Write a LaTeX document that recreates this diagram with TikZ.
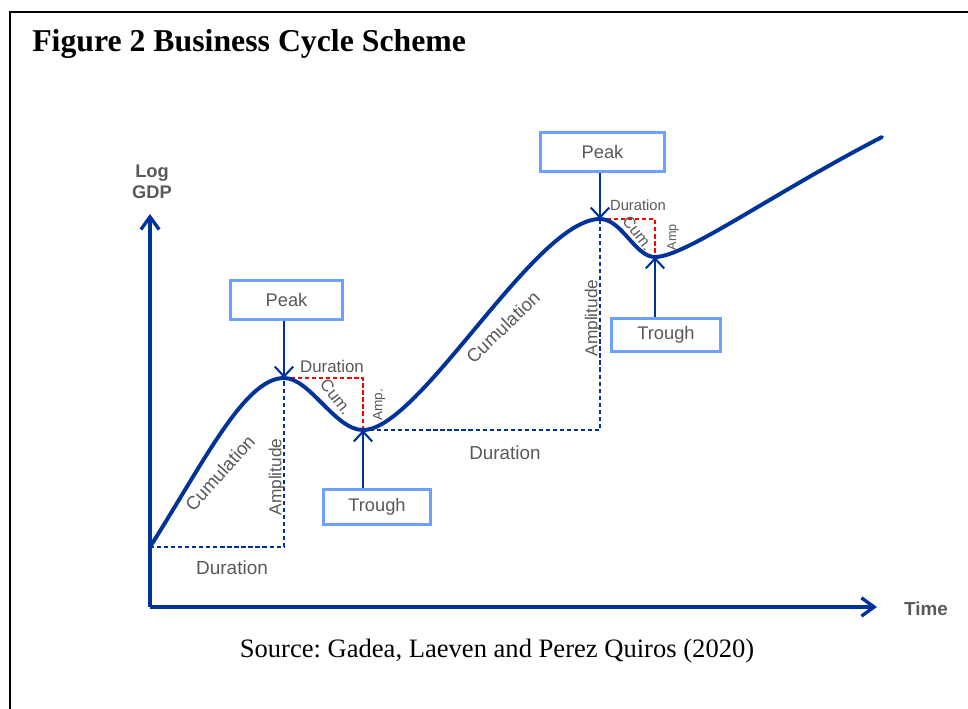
\documentclass[tikz,border=0pt]{standalone}
\usepackage{fontspec}
\setmainfont{Liberation Serif}
\setsansfont{Liberation Sans}
\usetikzlibrary{arrows.meta}
\frenchspacing

\definecolor{cycleblue}{RGB}{0,51,153}
\definecolor{boxblue}{RGB}{110,160,255}
\definecolor{labelgray}{RGB}{89,89,89}

\newcommand{\fsz}[1]{\fontsize{#1}{1.2\dimexpr #1pt\relax}\selectfont}

\tikzset{
  axisline/.style={line width=2.8pt, cycleblue, -{Straight Barb[length=9pt,width=13pt,line width=2.4pt]}},
  cycleline/.style={line width=2.8pt, cycleblue, line cap=round},
  stagebox/.style={draw=boxblue, line width=2pt, fill=white, inner sep=0pt,
    text=labelgray, font=\sffamily\fsz{13}},
  pointer/.style={line width=1.5pt, cycleblue, -{Straight Barb[length=7pt,width=13pt,line width=1.5pt]}},
  guide/.style={cycleblue, line width=0.9pt, dash pattern=on 3pt off 2pt},
  redguide/.style={red, line width=0.9pt, dash pattern=on 3pt off 2pt},
  lbl/.style={text=labelgray, font=\sffamily\fsz{12}, inner sep=0pt},
}

\begin{document}
\begin{tikzpicture}[x=0.025cm, y=-0.025cm]
  \useasboundingbox (0,0) rectangle (968,709);

  % Frame and title
  \draw[line width=1.3pt, line join=miter] (10,709) -- (10,12) -- (968,12);
  \node[anchor=base west, font=\bfseries\fsz{22.6}, inner sep=0pt] (title) at (32,52) {Figure 2 Business Cycle Scheme};

  % Turning points of the cycle
  \coordinate (start)   at (150,547);
  \coordinate (peakA)   at (284,378);
  \coordinate (troughA) at (363,430);
  \coordinate (peakB)   at (600,219);
  \coordinate (troughB) at (655,257);
  \coordinate (finish)  at (882,137);

  % Axes
  \coordinate (origin) at (150,607);
  \coordinate (ytip)   at (150,214);
  \coordinate (xtip)   at (877,607);
  \draw[axisline] (origin) -- (ytip);
  \draw[axisline] (origin) -- (xtip);
  \node[text=labelgray, font=\sffamily\bfseries\fsz{13}, align=center, inner sep=0pt] (ylabel) at (152,182) {Log\\[-1pt]GDP};
  \node[text=labelgray, font=\sffamily\bfseries\fsz{13.4}, inner sep=0pt] (xlabel) at (926,609) {Time};

  % Dashed guides (blue: full phase, red: recession)
  \draw[guide] (start) -- (start -| peakA) -- (peakA);
  \draw[guide] (troughA) -- (troughA -| peakB) -- (peakB);
  \draw[redguide] (peakA) -- (peakA -| troughA) -- (troughA);
  \draw[redguide] (peakB) -- (peakB -| troughB) -- (troughB);

  % The cycle
  \draw[cycleline] (start) .. controls (205,460) and (245,378) .. (peakA)
    .. controls (310,378) and (335,430) .. (troughA)
    .. controls (420,430) and (535,219) .. (peakB)
    .. controls (622,219) and (635,257) .. (troughB)
    .. controls (685,257) and (770,195) .. (finish);

  % Peak and trough boxes
  \node[stagebox, minimum width=2.8cm, minimum height=0.98cm] (peakboxA) at (286.5,300) {Peak};
  \node[stagebox, minimum width=2.68cm, minimum height=0.88cm] (troughboxA) at (377,507) {Trough};
  \node[stagebox, minimum width=3.1cm, minimum height=0.98cm] (peakboxB) at (602.5,152) {Peak};
  \node[stagebox, minimum width=2.72cm, minimum height=0.83cm] (troughboxB) at (666,335) {Trough};

  \draw[pointer] (peakboxA.south -| peakA) -- (peakA);
  \draw[pointer] (troughboxA.north -| troughA) -- (troughA);
  \draw[pointer] (peakboxB.south -| peakB) -- (peakB);
  \draw[pointer] (troughboxB.north -| troughB) -- (troughB);

  % Labels of the first cycle
  \node[lbl, font=\sffamily\fsz{13.2}, rotate=48] (cumA) at (220,473) {Cumulation};
  \node[lbl, font=\sffamily\fsz{12.3}, rotate=90] (ampA) at (277,477) {Amplitude};
  \node[lbl, font=\sffamily\fsz{13.5}] (durA) at (232,568) {Duration};
  \node[lbl] (recdurA) at (332,366) {Duration};
  \node[lbl, font=\sffamily\fsz{12}, rotate=-52] (reccumA) at (336,397) {Cum.};
  \node[lbl, font=\sffamily\fsz{9.7}, rotate=90] (recampA) at (379,405) {Amp.};

  % Labels of the second cycle
  \node[lbl, font=\sffamily\fsz{13.2}, rotate=44] (cumB) at (503,327) {Cumulation};
  \node[lbl, font=\sffamily\fsz{12.3}, rotate=90] (ampB) at (593,318) {Amplitude};
  \node[lbl, font=\sffamily\fsz{13.4}] (durB) at (505,453) {Duration};
  \node[lbl, font=\sffamily\fsz{10.5}] (recdurB) at (638,205) {Duration};
  \node[lbl, font=\sffamily\fsz{11.5}, rotate=-52] (reccumB) at (638,233) {Cum.};
  \node[lbl, font=\sffamily\fsz{9}, rotate=90] (recampB) at (673,237) {Amp};

  % Source line
  \node[anchor=base, font=\fsz{18.9}, inner sep=0pt] (source) at (497,657) {Source: Gadea, Laeven and Perez Quiros (2020)};
\end{tikzpicture}
\end{document}
